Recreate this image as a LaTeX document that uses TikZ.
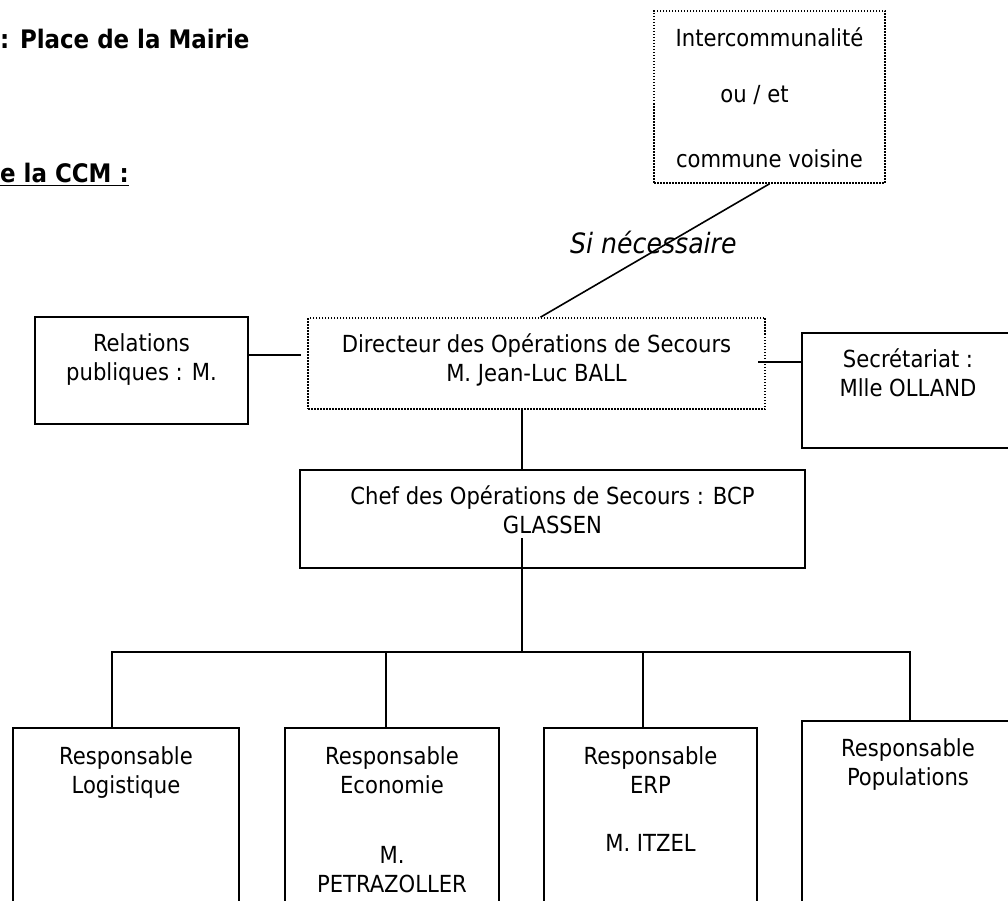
\documentclass[tikz,border=0pt]{standalone}
\usepackage{fontspec}
\setmainfont{DejaVu Sans Condensed}
\usetikzlibrary{positioning}
\tikzset{node distance=2cm, auto}
\tikzset{
  cadre/.style={draw, line width=1.6pt, inner sep=0pt},
  cadrepts/.style={cadre, dash pattern=on 1.5pt off 1.5pt},
  texte/.style={inner sep=0pt, align=center, font=\fontsize{23.5}{29}\selectfont},
  titre/.style={inner sep=0pt, anchor=base west, font=\fontsize{25.5}{28}\selectfont\bfseries},
  lien/.style={line width=1.6pt}
}

\begin{document}
\begin{tikzpicture}[x=1pt, y=-1pt]
\useasboundingbox (0,0) rectangle (1008,901);
\node (lieu) [titre] at (0,49) {: Place de la Mairie};
\node (ccm) [titre] at (0,183) {\underline{e la CCM :}};

\node (inter) [cadrepts, minimum width=231pt, minimum height=172pt] at (769.5,97) {};
\node (intertxt) [texte, below=17pt of inter.north] {Intercommunalit\'e\\[27pt]\hbox{ou / et\hspace{30pt}}\\[36pt]commune voisine};
\node (si) [inner sep=0pt, anchor=base west, font=\fontsize{28}{32}\selectfont\itshape] at (570,254) {Si n\'ecessaire};

\node (rel) [cadre, minimum width=213pt, minimum height=107pt] at (141.5,370.5) {};
\node (reltxt) [texte, below=17pt of rel.north] {Relations\\publiques : M.};
\node (dos) [cadrepts, minimum width=457pt, minimum height=91pt] at (536.5,363.5) {};
\node (dostxt) [texte, below=16pt of dos.north] {Directeur des Op\'erations de Secours\\M. Jean-Luc BALL};
\node (sec) [cadre, minimum width=212pt, minimum height=115pt] at (908,390.5) {};
\node (sectxt) [texte, below=16pt of sec.north] {Secr\'etariat :\\Mlle OLLAND};

\node (chef) [cadre, minimum width=505pt, minimum height=98pt] at (552.5,519) {};
\node (cheftxt) [texte, below=16pt of chef.north] {Chef des Op\'erations de Secours : BCP\\GLASSEN};

% responsables
\node (log) [cadre, minimum width=226pt, minimum height=202pt] at (126,829) {};
\node (logtxt) [texte, below=19pt of log.north] {Responsable\\Logistique};
\node (eco) [cadre, minimum width=214pt, minimum height=202pt] at (392,829) {};
\node (ecotxt) [texte, below=19pt of eco.north] {Responsable\\Economie\\[41pt]M.\\PETRAZOLLER};
\node (erp) [cadre, minimum width=213pt, minimum height=202pt] at (650.5,829) {};
\node (erptxt) [texte, below=19pt of erp.north] {Responsable\\ERP\\[29pt]M. ITZEL};
\node (pop) [cadre, minimum width=212pt, minimum height=216pt] at (908,829) {};
\node (poptxt) [texte, below=18pt of pop.north] {Responsable\\Populations};

\coordinate (relfin) at (301,355);
\coordinate (secdeb) at (758,362);
\coordinate (tronc) at (522,652);
\coordinate (troncdeb) at (522,538);
\coordinate (b1) at (112,652);
\coordinate (b2) at (386,652);
\coordinate (b3) at (643,652);
\coordinate (b4) at (910,652);

\draw[lien] (inter.south) -- ([xshift=4pt]dos.north);
\draw[lien] (relfin -| rel.east) -- (relfin);
\draw[lien] (secdeb) -- (secdeb -| sec.west);
\draw[lien] (tronc |- dos.south) -- (tronc |- chef.north);
\draw[lien] (troncdeb) -- (tronc);
\draw[lien] (log.north -| b1) -- (b1) -- (b4) -- (pop.north -| b4);
\draw[lien] (b2) -- (b2 |- eco.north);
\draw[lien] (b3) -- (b3 |- erp.north);
\end{tikzpicture}
\end{document}
